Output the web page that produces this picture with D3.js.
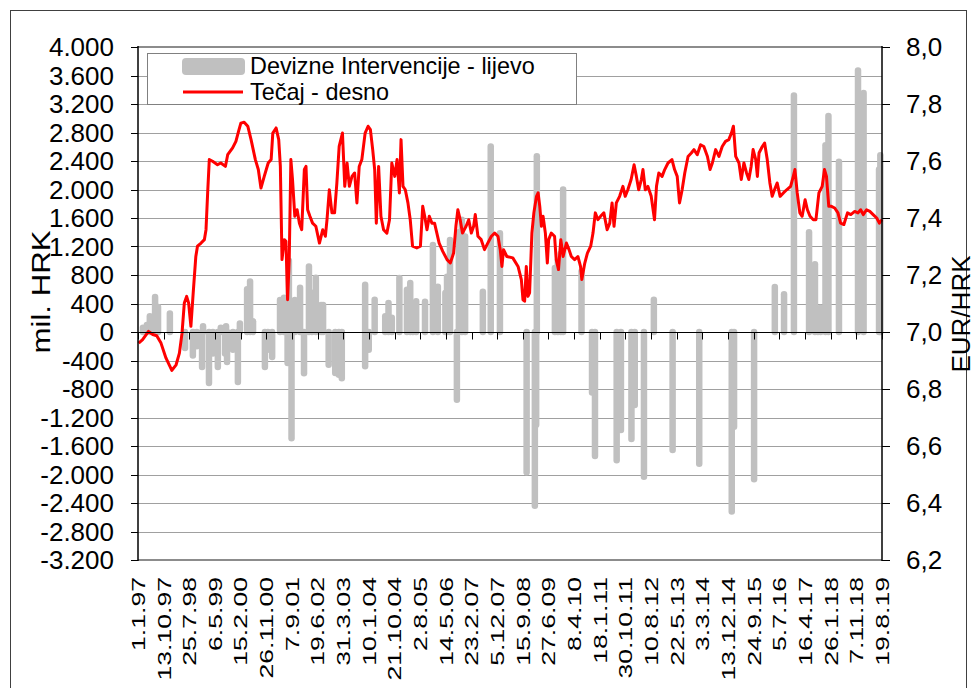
<!DOCTYPE html>
<html>
<head>
<meta charset="utf-8">
<script src="https://cdn.jsdelivr.net/npm/d3@7.9.0/dist/d3.min.js"></script>
<style>
  body { margin: 0; background: #fff; }
  svg { display: block; font-family: "Liberation Sans", Arial, sans-serif; }
</style>
</head>
<body>
<svg id="chart" width="977" height="688"></svg>
<script>
// Tečaj EUR/HRK (desno) - [decimal year, rate]
const tecaj = [
  [1997.02,6.961],[1997.14,6.973],[1997.32,7.002],[1997.45,6.991],[1997.57,6.987],[1997.70,6.961],[1997.85,6.909],[1997.95,6.885],
  [1998.03,6.865],[1998.16,6.885],[1998.26,6.926],[1998.34,6.996],[1998.41,7.102],[1998.48,7.125],[1998.54,7.102],[1998.61,7.020],
  [1998.68,7.137],[1998.76,7.265],[1998.81,7.301],[1998.92,7.312],[1999.02,7.324],[1999.07,7.359],[1999.12,7.488],[1999.17,7.605],
  [1999.27,7.599],[1999.42,7.587],[1999.52,7.593],[1999.66,7.581],[1999.73,7.622],[1999.88,7.646],[1999.98,7.669],[2000.06,7.704],
  [2000.13,7.733],[2000.23,7.736],[2000.34,7.722],[2000.44,7.675],[2000.57,7.605],[2000.66,7.570],[2000.74,7.505],[2000.84,7.546],
  [2000.96,7.593],[2001.05,7.605],[2001.10,7.698],[2001.20,7.716],[2001.28,7.675],[2001.33,7.581],[2001.38,7.254],[2001.45,7.324],
  [2001.50,7.318],[2001.55,7.113],[2001.60,7.254],[2001.65,7.605],[2001.70,7.535],[2001.77,7.406],[2001.84,7.429],[2001.91,7.382],
  [2001.98,7.359],[2002.06,7.570],[2002.11,7.581],[2002.16,7.429],[2002.23,7.406],[2002.31,7.382],[2002.41,7.371],[2002.52,7.312],
  [2002.62,7.359],[2002.70,7.336],[2002.75,7.394],[2002.82,7.499],[2002.90,7.418],[2002.98,7.418],[2003.05,7.523],[2003.12,7.651],
  [2003.22,7.698],[2003.29,7.511],[2003.36,7.593],[2003.43,7.511],[2003.51,7.546],[2003.59,7.558],[2003.66,7.453],[2003.73,7.581],
  [2003.81,7.605],[2003.91,7.698],[2004.00,7.722],[2004.07,7.710],[2004.14,7.640],[2004.20,7.570],[2004.25,7.382],[2004.32,7.581],
  [2004.39,7.406],[2004.47,7.359],[2004.57,7.347],[2004.65,7.394],[2004.72,7.593],[2004.81,7.546],[2004.88,7.605],[2004.95,7.488],
  [2005.00,7.675],[2005.06,7.511],[2005.13,7.499],[2005.21,7.453],[2005.28,7.394],[2005.35,7.301],[2005.48,7.295],[2005.59,7.301],
  [2005.66,7.441],[2005.72,7.406],[2005.79,7.359],[2005.86,7.406],[2005.94,7.382],[2006.02,7.382],[2006.09,7.347],[2006.16,7.312],
  [2006.27,7.283],[2006.40,7.254],[2006.50,7.242],[2006.60,7.277],[2006.67,7.371],[2006.73,7.429],[2006.80,7.394],[2006.87,7.347],
  [2006.98,7.371],[2007.06,7.394],[2007.14,7.347],[2007.21,7.371],[2007.26,7.412],[2007.34,7.336],[2007.44,7.324],[2007.54,7.289],
  [2007.64,7.312],[2007.75,7.336],[2007.85,7.347],[2007.95,7.336],[2008.02,7.289],[2008.07,7.230],[2008.12,7.289],[2008.22,7.265],
  [2008.40,7.260],[2008.56,7.230],[2008.66,7.184],[2008.71,7.113],[2008.76,7.108],[2008.81,7.230],[2008.86,7.125],[2008.91,7.137],
  [2008.98,7.347],[2009.04,7.418],[2009.12,7.476],[2009.17,7.488],[2009.22,7.441],[2009.27,7.371],[2009.32,7.406],[2009.39,7.347],
  [2009.45,7.242],[2009.49,7.324],[2009.57,7.347],[2009.67,7.336],[2009.72,7.254],[2009.79,7.219],[2009.86,7.324],[2009.93,7.265],
  [2010.03,7.312],[2010.11,7.289],[2010.18,7.265],[2010.28,7.254],[2010.38,7.265],[2010.46,7.230],[2010.50,7.184],[2010.59,7.242],
  [2010.67,7.277],[2010.77,7.301],[2010.84,7.347],[2010.91,7.418],[2010.99,7.394],[2011.07,7.406],[2011.17,7.418],[2011.27,7.359],
  [2011.35,7.382],[2011.42,7.453],[2011.48,7.371],[2011.55,7.453],[2011.65,7.476],[2011.75,7.511],[2011.82,7.476],[2011.90,7.499],
  [2012.00,7.535],[2012.09,7.587],[2012.16,7.546],[2012.23,7.499],[2012.31,7.535],[2012.36,7.570],[2012.43,7.499],[2012.51,7.511],
  [2012.61,7.476],[2012.71,7.394],[2012.77,7.511],[2012.84,7.558],[2012.94,7.546],[2013.02,7.570],[2013.12,7.593],[2013.24,7.605],
  [2013.32,7.570],[2013.40,7.546],[2013.47,7.453],[2013.55,7.499],[2013.63,7.558],[2013.73,7.616],[2013.83,7.628],[2013.91,7.640],
  [2014.01,7.622],[2014.11,7.657],[2014.21,7.651],[2014.32,7.616],[2014.40,7.570],[2014.47,7.593],[2014.57,7.640],[2014.67,7.616],
  [2014.77,7.651],[2014.87,7.669],[2014.97,7.675],[2015.05,7.698],[2015.11,7.722],[2015.18,7.616],[2015.28,7.593],[2015.35,7.535],
  [2015.43,7.593],[2015.51,7.558],[2015.58,7.535],[2015.65,7.581],[2015.71,7.640],[2015.79,7.605],[2015.84,7.546],[2015.89,7.628],
  [2015.99,7.651],[2016.06,7.663],[2016.14,7.605],[2016.22,7.523],[2016.29,7.476],[2016.36,7.499],[2016.44,7.523],[2016.53,7.476],
  [2016.63,7.488],[2016.73,7.499],[2016.85,7.511],[2016.93,7.546],[2016.98,7.570],[2017.05,7.488],[2017.13,7.418],[2017.20,7.406],
  [2017.29,7.464],[2017.36,7.429],[2017.44,7.406],[2017.54,7.394],[2017.62,7.394],[2017.71,7.488],[2017.81,7.511],[2017.88,7.570],
  [2017.94,7.546],[2018.01,7.441],[2018.09,7.441],[2018.19,7.435],[2018.29,7.418],[2018.37,7.382],[2018.47,7.377],[2018.58,7.418],
  [2018.68,7.412],[2018.80,7.423],[2018.90,7.418],[2018.98,7.429],[2019.06,7.412],[2019.16,7.429],[2019.26,7.423],[2019.36,7.412],
  [2019.47,7.400],[2019.55,7.382],[2019.63,7.394]
];

// Devizne intervencije (lijevo), mil. HRK - [decimal year, amount]
const intervencije = [
  [1997.15,60],[1997.27,100],[1997.36,220],[1997.52,490],[1997.61,350],[1997.97,260],[1998.43,-225],[1998.67,-330],
  [1998.79,-200],[1998.95,-490],[1998.98,80],[1999.16,-717],[1999.28,-300],[1999.43,-490],[1999.52,60],[1999.65,-300],
  [1999.68,80],[1999.71,-420],[1999.89,-250],[2000.04,-700],[2000.10,120],[2000.32,600],[2000.41,710],[2000.50,150],
  [2000.86,-490],[2000.95,-250],[2001.08,-350],[2001.32,450],[2001.44,480],[2001.55,-435],[2001.59,1000],[2001.67,-1490],
  [2001.77,450],[2001.93,620],[2002.05,-580],[2002.20,920],[2002.29,550],[2002.41,760],[2002.57,380],[2002.63,380],
  [2002.80,-458],[2003.00,-575],[2003.11,-600],[2003.20,-650],[2003.91,-482],[2003.91,664],[2004.02,-250],[2004.20,454],
  [2004.52,220],[2004.62,407],[2004.72,200],[2004.95,758],[2005.18,594],[2005.28,688],[2005.36,400],[2005.46,430],
  [2005.73,426],[2005.97,1222],[2006.12,636],[2006.35,547],[2006.40,777],[2006.49,1292],[2006.70,-950],[2006.76,1400],
  [2006.85,1574],[2006.95,1339],[2007.49,566],[2007.73,2604],[2008.01,1387],[2008.82,-1970],[2009.07,-2440],[2009.11,-1300],
  [2009.13,2465],[2009.68,900],[2009.77,1000],[2009.86,1100],[2009.93,2000],[2010.49,850],[2010.81,-850],[2010.90,-1740],
  [2011.56,-1800],[2011.69,-1377],[2012.01,-1500],[2012.11,-1026],[2012.39,-2030],[2012.69,454],[2013.26,-1655],[2014.07,-1850],
  [2015.06,-2520],[2015.13,-1330],[2015.74,-2065],[2016.37,630],[2016.65,530],[2016.95,3320],[2017.41,1400],[2017.59,950],
  [2017.68,300],[2017.76,340],[2017.91,2620],[2018.00,3030],[2018.32,2390],[2018.90,3670],[2019.07,3354],[2019.54,2280],
  [2019.58,2480]
];

const xTickLabels = ['1.1.97','13.10.97','25.7.98','6.5.99','15.2.00','26.11.00','7.9.01','19.6.02','31.3.03','10.1.04',
  '21.10.04','2.8.05','14.5.06','23.2.07','5.12.07','15.9.08','27.6.09','8.4.10','18.1.11','30.10.11','10.8.12','22.5.13',
  '3.3.14','13.12.14','24.9.15','5.7.16','16.4.17','26.1.18','7.11.18','19.8.19'];
const leftTicks = [-3200,-2800,-2400,-2000,-1600,-1200,-800,-400,0,400,800,1200,1600,2000,2400,2800,3200,3600,4000];
const rightTicks = [6.2,6.4,6.6,6.8,7.0,7.2,7.4,7.6,7.8,8.0];

const legendLabels = ['Devizne Intervencije - lijevo', 'Tečaj - desno'];

// helpers
function yearToDate(y) {
  const yr = Math.floor(y);
  const a = Date.UTC(yr, 0, 1), b = Date.UTC(yr + 1, 0, 1);
  return new Date(a + (y - yr) * (b - a));
}
function parseLabel(s) {
  const [d, m, yy] = s.split('.').map(Number);
  return new Date(Date.UTC(yy < 50 ? 2000 + yy : 1900 + yy, m - 1, d));
}

const hr = d3.formatLocale({decimal: ',', thousands: '.', grouping: [3], currency: ['', ''], minus: '-'});
const fmtLeft = hr.format(',');
const fmtRight = hr.format('.1f');

const plotL = 138, plotR = 882, plotT = 47, plotB = 560;
const svg = d3.select('#chart');

const tickDates = xTickLabels.map(parseLabel);
const x = d3.scaleUtc().domain([tickDates[0], tickDates[tickDates.length - 1]]).range([plotL, plotR]);
const yL = d3.scaleLinear().domain([-3200, 4000]).range([plotB, plotT]);
const yR = d3.scaleLinear().domain([6.2, 8.0]).range([plotB, plotT]);

// outer frame
svg.append('rect').attr('x', 10.5).attr('y', 10.5).attr('width', 956).attr('height', 700)
  .attr('fill', 'none').attr('stroke', '#404040').attr('stroke-width', 1);

// gridlines
svg.append('g').selectAll('line').data(leftTicks.filter(v => v !== 0)).join('line')
  .attr('x1', plotL).attr('x2', plotR)
  .attr('y1', d => Math.round(yL(d)) + 0.5).attr('y2', d => Math.round(yL(d)) + 0.5)
  .attr('stroke', '#a0a0a0').attr('stroke-width', 1);

// plot border top / bottom
svg.append('line').attr('x1', plotL).attr('x2', plotR).attr('y1', plotT).attr('y2', plotT)
  .attr('stroke', '#8c8c8c').attr('stroke-width', 2);
svg.append('line').attr('x1', plotL).attr('x2', plotR).attr('y1', plotB).attr('y2', plotB)
  .attr('stroke', '#8c8c8c').attr('stroke-width', 2);

// intervention bars
svg.append('g').selectAll('line').data(intervencije).join('line')
  .attr('x1', d => x(yearToDate(d[0]))).attr('x2', d => x(yearToDate(d[0])))
  .attr('y1', yL(0)).attr('y2', d => yL(d[1]))
  .attr('stroke', '#c0c0c0').attr('stroke-width', 6.5).attr('stroke-linecap', 'round');

// exchange rate line
const line = d3.line().x(d => x(yearToDate(d[0]))).y(d => yR(d[1]));
svg.append('path').datum(tecaj).attr('d', line)
  .attr('fill', 'none').attr('stroke', '#ff0000').attr('stroke-width', 3).attr('stroke-linejoin', 'round');

// zero axis with date ticks
const y0 = Math.round(yL(0)) + 0.5;
svg.append('line').attr('x1', plotL).attr('x2', plotR).attr('y1', y0).attr('y2', y0)
  .attr('stroke', '#000').attr('stroke-width', 1);
svg.append('g').selectAll('line').data(tickDates).join('line')
  .attr('x1', d => Math.round(x(d)) + 0.5).attr('x2', d => Math.round(x(d)) + 0.5)
  .attr('y1', y0).attr('y2', y0 + 7).attr('stroke', '#000');

// left axis
svg.append('line').attr('x1', plotL).attr('x2', plotL).attr('y1', plotT - 1).attr('y2', plotB + 1)
  .attr('stroke', '#000').attr('stroke-width', 1.5);
svg.append('g').selectAll('line').data(leftTicks).join('line')
  .attr('x1', plotL - 7).attr('x2', plotL)
  .attr('y1', d => Math.round(yL(d)) + 0.5).attr('y2', d => Math.round(yL(d)) + 0.5).attr('stroke', '#000');
svg.append('g').selectAll('text').data(leftTicks).join('text')
  .attr('x', 114).attr('y', d => yL(d)).attr('dy', '0.36em')
  .attr('text-anchor', 'end').attr('font-size', 26).attr('fill', '#000')
  .text(d => fmtLeft(d));

// right axis
svg.append('line').attr('x1', plotR).attr('x2', plotR).attr('y1', plotT - 1).attr('y2', plotB + 1)
  .attr('stroke', '#000').attr('stroke-width', 1.5);
svg.append('g').selectAll('line').data(rightTicks).join('line')
  .attr('x1', plotR).attr('x2', plotR + 8)
  .attr('y1', d => Math.round(yR(d)) + 0.5).attr('y2', d => Math.round(yR(d)) + 0.5).attr('stroke', '#000');
svg.append('g').selectAll('text').data(rightTicks).join('text')
  .attr('x', 906).attr('y', d => yR(d)).attr('dy', '0.36em')
  .attr('font-size', 26).attr('fill', '#000')
  .text(d => fmtRight(d));

// date labels (rotated)
svg.append('g').selectAll('text').data(tickDates).join('text')
  .attr('transform', d => `translate(${x(d)},577) rotate(-90) scale(1.4,1)`)
  .attr('dy', '0.36em').attr('text-anchor', 'end')
  .attr('font-size', 19).attr('fill', '#000')
  .text((d, i) => xTickLabels[i]);

// axis titles
svg.append('text').attr('transform', 'translate(50,292) rotate(-90) scale(1.2,1)')
  .attr('text-anchor', 'middle').attr('font-size', 26).text('mil. HRK');
svg.append('text').attr('transform', 'translate(970,314) rotate(-90)')
  .attr('text-anchor', 'middle').attr('font-size', 26).text('EUR/HRK');

// legend
const lg = svg.append('g');
lg.append('rect').attr('x', 147.5).attr('y', 53.5).attr('width', 429).attr('height', 51)
  .attr('fill', '#fff').attr('stroke', '#808080');
lg.append('rect').attr('x', 182).attr('y', 58).attr('width', 63).attr('height', 17).attr('rx', 4)
  .attr('fill', '#c0c0c0');
lg.append('line').attr('x1', 183).attr('x2', 243).attr('y1', 92).attr('y2', 92)
  .attr('stroke', '#ff0000').attr('stroke-width', 3);
lg.selectAll('text').data(legendLabels).join('text')
  .attr('x', 250).attr('y', (d, i) => 74 + i * 26)
  .attr('font-size', 23.4).attr('fill', '#000')
  .text(d => d);
</script>
</body>
</html>
